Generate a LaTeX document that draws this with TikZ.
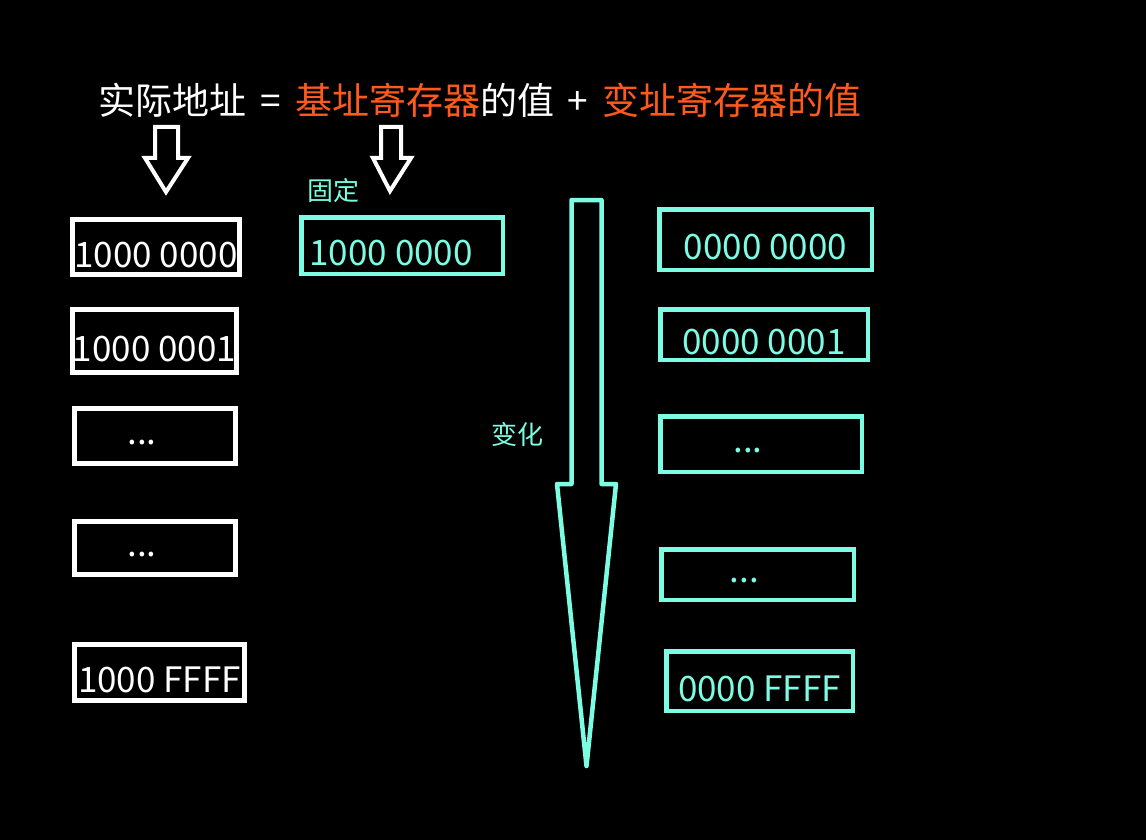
\documentclass[tikz,border=0pt]{standalone}
\usepackage{fontspec}
\setmainfont{Noto Sans CJK SC}
\usetikzlibrary{positioning}
\definecolor{bgblack}{HTML}{000000}
\definecolor{regcyan}{HTML}{7CFCE2}
\definecolor{regorange}{HTML}{FF5A1E}

\begin{document}
\begin{tikzpicture}[x=1pt, y=-1pt,
  membox/.style={draw=white, line width=5pt, inner sep=0pt, text=white, font=\fontsize{35}{40}\selectfont, text height=40pt, text depth=0pt},
  regbox/.style={draw=regcyan, line width=4.5pt, inner sep=0pt, text=regcyan, font=\fontsize{35}{40}\selectfont, text height=40pt, text depth=0pt},
  dotbox/.style={text height=16pt, execute at end node={\hspace*{26pt}}},
  tag/.style={text=regcyan, font=\fontsize{26}{30}\selectfont, inner sep=0pt}]
\fill[bgblack] (0,0) rectangle (1146,840);
\useasboundingbox (0,0) rectangle (1146,840);
% formula
\node[inner sep=0pt, text=white, font=\fontsize{37}{42}\selectfont] (formula) at (480,100) {实际地址\hspace{14pt}=\hspace{14pt}\textcolor{regorange}{基址寄存器}的值\hspace{14pt}+\hspace{14pt}\textcolor{regorange}{变址寄存器的值}};
% hollow arrows under the formula
\draw[white, line width=4pt, line join=miter] (155,127) -- (155,158) -- (145,158) -- (166,192) -- (188,158) -- (178,158) -- (178,127) -- cycle;
\draw[white, line width=4pt, line join=miter] (381,127) -- (381,158) -- (373,158) -- (390,191) -- (411,158) -- (401,158) -- (401,127) -- cycle;
% actual addresses
\node[membox, minimum width=167pt, minimum height=55pt] (addr0) at (156,247) {1000 0000};
\node[membox, minimum width=160pt, minimum height=63pt] (addr1) at (154.5,341) {1000 0001};
\node[membox, dotbox, minimum width=161pt, minimum height=55pt] (addr2) at (155,436) {...};
\node[membox, dotbox, minimum width=161pt, minimum height=53pt] (addr3) at (155,548) {...};
\node[membox, minimum width=170pt, minimum height=56pt] (addrN) at (159.5,672.5) {1000 FFFF};
% base register
\node[tag] (fixed) at (333,191) {固定};
\node[regbox, minimum width=201.5pt, minimum height=56.5pt] (base) at (402,245.5) {\makebox[185pt][l]{1000 0000}};
% index register
\draw[regcyan, line width=4.5pt, line join=round] (571.5,200) -- (601.5,200) -- (601.5,484) -- (616,484) -- (586.5,766) -- (557,484) -- (571.5,484) -- cycle;
\node[tag] (change) at (517,435) {变化};
\node[regbox, minimum width=212.5pt, minimum height=60.5pt] (idx0) at (765.5,239.5) {0000 0000};
\node[regbox, minimum width=207.5pt, minimum height=50.5pt] (idx1) at (764,334.5) {0000 0001};
\node[regbox, dotbox, minimum width=201.5pt, minimum height=55.5pt] (idx2) at (761,444) {...};
\node[regbox, dotbox, minimum width=192.5pt, minimum height=50.5pt] (idx3) at (757.5,574.5) {...};
\node[regbox, minimum width=186.5pt, minimum height=59.5pt] (idxN) at (759.5,681) {0000 FFFF};
\end{tikzpicture}
\end{document}
